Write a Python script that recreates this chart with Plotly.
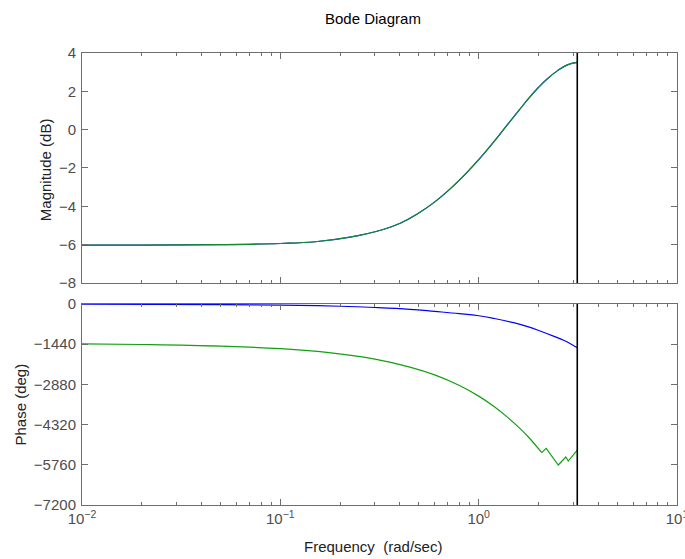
import numpy as np
import plotly.graph_objects as go

# Frequency response samples (rad/sec) for the magnitude curve
mag_freq = [0.01, 0.02, 0.05, 0.1, 0.15, 0.2245, 0.33, 0.402, 0.488, 0.592, 0.718, 0.871,
            1.016, 1.2, 1.4, 1.6, 1.8, 2.0, 2.2, 2.5, 2.8, 3.1416]
mag_db = [-6.02, -6.02, -6.0, -5.94, -5.85, -5.61, -5.21, -4.88, -4.41, -3.82, -3.09, -2.24,
          -1.49, -0.60, 0.27, 1.02, 1.67, 2.20, 2.62, 3.08, 3.38, 3.51]

# Phase of the first response (blue)
phase_blue_freq = [0.01, 0.05, 0.1, 0.2, 0.3, 0.45, 0.6, 0.8, 1.0, 1.2, 1.5, 1.8,
                   2.04, 2.4, 2.7, 3.1416]
phase_blue_deg = [-2, -20, -40, -80, -125, -190, -265, -345, -420, -520, -670, -830,
                  -967, -1160, -1310, -1565]

# Phase of the second response (green): smooth part, then the jagged tail
phase_green_freq = [0.01, 0.02, 0.05, 0.1, 0.18, 0.3, 0.45, 0.6, 0.8, 1.0, 1.2,
                    1.4, 1.6, 1.8, 2.08]
phase_green_deg = [-1425, -1450, -1510, -1600, -1750, -1975, -2260, -2540, -2920,
                   -3300, -3680, -4060, -4430, -4800, -5326]
tail_green_freq = [2.08, 2.19, 2.52, 2.75, 2.83, 3.1416]
tail_green_deg = [-5326, -5169, -5767, -5481, -5624, -5230]

nyquist = np.pi

mag_ticks = [4, 2, 0, -2, -4, -6, -8]
phase_ticks = [0, -1440, -2880, -4320, -5760, -7200]
freq_ticks = [0.01, 0.1, 1, 10]
freq_ticktext = ["10<sup>\u22122</sup>", "10<sup>\u22121</sup>", "10<sup>0</sup>", "10<sup>1</sup>"]
minor_vals = [m * 10.0 ** k for k in (-2, -1, 0) for m in range(2, 10)]

BLUE = "#0000ff"
GREEN = "#12a012"
AXIS = "#6e6e6e"
LABEL = "#4d4d4d"
FONT = "Liberation Sans, Arial, sans-serif"

smooth = dict(width=1.2, shape="spline", smoothing=1.2)

fig = go.Figure()

# Magnitude (both responses coincide)
fig.add_trace(go.Scatter(x=mag_freq, y=mag_db, mode="lines", line=dict(color=BLUE, **smooth),
                         xaxis="x", yaxis="y", showlegend=False))
fig.add_trace(go.Scatter(x=mag_freq, y=mag_db, mode="lines", line=dict(color=GREEN, **smooth),
                         xaxis="x", yaxis="y", showlegend=False, opacity=0.88))

# Phase
fig.add_trace(go.Scatter(x=phase_blue_freq, y=phase_blue_deg, mode="lines",
                         line=dict(color=BLUE, **smooth),
                         xaxis="x2", yaxis="y2", showlegend=False))
fig.add_trace(go.Scatter(x=phase_green_freq, y=phase_green_deg, mode="lines",
                         line=dict(color=GREEN, **smooth),
                         xaxis="x2", yaxis="y2", showlegend=False))
fig.add_trace(go.Scatter(x=tail_green_freq, y=tail_green_deg, mode="lines",
                         line=dict(color=GREEN, width=1.2),
                         xaxis="x2", yaxis="y2", showlegend=False))

# Nyquist frequency markers
fig.add_trace(go.Scatter(x=[nyquist, nyquist], y=[mag_ticks[-1], mag_ticks[0]], mode="lines",
                         line=dict(color="black", width=1.6), xaxis="x", yaxis="y", showlegend=False))
fig.add_trace(go.Scatter(x=[nyquist, nyquist], y=[phase_ticks[-1], phase_ticks[0]], mode="lines",
                         line=dict(color="black", width=1.6), xaxis="x2", yaxis="y2", showlegend=False))

common_x = dict(type="log", range=[-2, 1], tickvals=freq_ticks, ticktext=freq_ticktext,
                ticks="inside", ticklen=6, tickcolor=AXIS, showline=True, linecolor=AXIS,
                linewidth=1, mirror="allticks", showgrid=False, zeroline=False, automargin=False,
                minor=dict(tickvals=minor_vals, ticks="inside", ticklen=3, tickcolor=AXIS, showgrid=False),
                tickfont=dict(size=15, color=LABEL, family=FONT), ticklabeloverflow="allow")
common_y = dict(ticks="inside", ticklen=6, tickcolor=AXIS, showline=True, linecolor=AXIS,
                linewidth=1, mirror="allticks", showgrid=False, zeroline=False, automargin=False,
                tickfont=dict(size=15, color=LABEL, family=FONT), ticklabelstandoff=2)

fig.update_layout(
    width=685, height=559,
    margin=dict(l=82, r=8, t=53, b=54),
    paper_bgcolor="white", plot_bgcolor="white",
    font=dict(family=FONT, size=15, color="#222222"),
    xaxis=dict(common_x, anchor="y", showticklabels=False, domain=[0, 1]),
    yaxis=dict(common_y, domain=[0.4912, 1], range=[-8, 4], tickvals=mag_ticks),
    xaxis2=dict(common_x, anchor="y2", showticklabels=True, domain=[0, 1], matches="x"),
    yaxis2=dict(common_y, domain=[0, 0.4447], range=[-7200, 0], tickvals=phase_ticks),
    annotations=[
        dict(text="Bode Diagram", x=0.489, y=1.0774, xref="paper", yref="paper",
             showarrow=False, xanchor="center", yanchor="middle", font=dict(size=15, color="black")),
        dict(text="Magnitude (dB)", x=-0.0622, y=0.743, xref="paper", yref="paper", textangle=-90,
             showarrow=False, xanchor="center", yanchor="middle", font=dict(size=15, color="#222222")),
        dict(text="Phase (deg)", x=-0.1025, y=0.2223, xref="paper", yref="paper", textangle=-90,
             showarrow=False, xanchor="center", yanchor="middle", font=dict(size=15, color="#222222")),
        dict(text="Frequency  (rad/sec)", x=0.489, y=-0.0929, xref="paper", yref="paper",
             showarrow=False, xanchor="center", yanchor="middle", font=dict(size=15, color="#222222")),
    ],
)

fig.write_html("out.html")
